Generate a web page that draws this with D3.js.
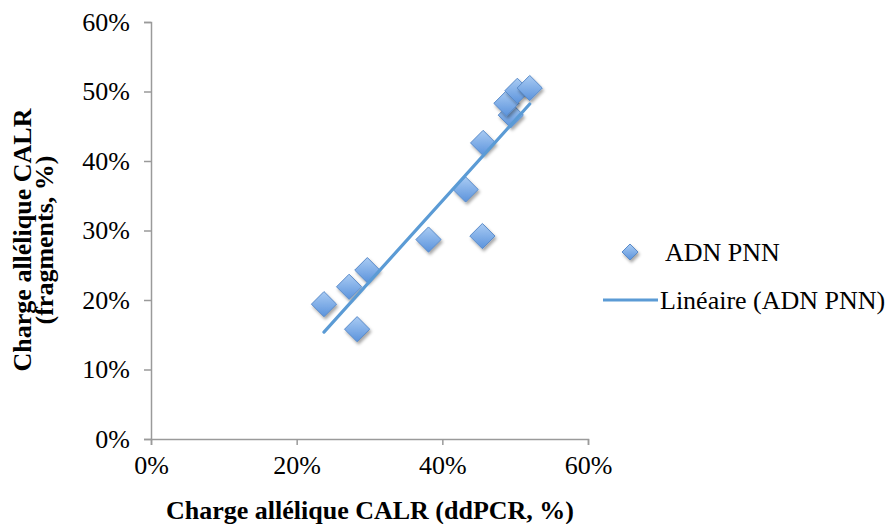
<!DOCTYPE html>
<html>
<head>
<meta charset="utf-8">
<script src="https://cdn.jsdelivr.net/npm/d3@7"></script>
<style>
  html, body { margin: 0; padding: 0; background: #fff; }
  svg { display: block; }
  text { font-family: "Liberation Serif", "Times New Roman", serif; fill: #000; }
</style>
</head>
<body>
<svg id="chart" width="892" height="524"></svg>
<script>
// Data (percent)
const xValues = [23.75, 27.2, 29.7, 28.3, 38.1, 45.5, 43.2, 45.6, 49.4, 48.8, 50.3, 52.0];
const yValues = [19.4, 21.9, 24.3, 15.8, 28.7, 29.2, 35.9, 42.6, 46.6, 48.3, 50.1, 50.5];
const xTicks = [0, 20, 40, 60];
const yTicks = [0, 10, 20, 30, 40, 50, 60];
const seriesName = "ADN PNN";
const trendName = "Linéaire (ADN PNN)";
const xTitle = "Charge allélique CALR (ddPCR, %)";
const yTitleLines = ["Charge allélique CALR", "(fragments, %)"];

const svg = d3.select("#chart");
const x = d3.scaleLinear().domain([0, 60]).range([151, 588]);
const y = d3.scaleLinear().domain([0, 60]).range([439, 22]);

const defs = svg.append("defs");
const grad = defs.append("linearGradient").attr("id", "mk").attr("x1", 0).attr("y1", 0).attr("x2", 0).attr("y2", 1);
grad.append("stop").attr("offset", "0%").attr("stop-color", "#a9cbf3");
grad.append("stop").attr("offset", "100%").attr("stop-color", "#5b93dc");
const filt = defs.append("filter").attr("id", "sh").attr("x", "-50%").attr("y", "-50%").attr("width", "200%").attr("height", "200%");
filt.append("feDropShadow").attr("dx", 1.5).attr("dy", 2.5).attr("stdDeviation", 1.6).attr("flood-color", "#000").attr("flood-opacity", 0.35);

const axisColor = "#9a9a9a";
const fs = 26;

// Y axis
const yAxis = svg.append("g").attr("transform", `translate(${x(0)},0)`)
  .call(d3.axisLeft(y).tickValues(yTicks).tickSize(7).tickPadding(14).tickFormat(d => d + "%"));
yAxis.select(".domain").attr("stroke", axisColor).attr("stroke-width", 1.5);
yAxis.selectAll(".tick line").attr("stroke", axisColor).attr("stroke-width", 1.5);
yAxis.selectAll(".tick text").attr("font-size", fs).attr("font-family", "Liberation Serif").attr("fill", "#000");

// X axis
const xAxis = svg.append("g").attr("transform", `translate(0,${y(0)})`)
  .call(d3.axisBottom(x).tickValues(xTicks).tickSize(6).tickPadding(11).tickFormat(d => d + "%"));
xAxis.select(".domain").attr("stroke", axisColor).attr("stroke-width", 1.5);
xAxis.selectAll(".tick line").attr("stroke", axisColor).attr("stroke-width", 1.5);
xAxis.selectAll(".tick text").attr("font-size", fs).attr("font-family", "Liberation Serif").attr("fill", "#000");

// Linear regression trendline
const n = xValues.length;
const mx = d3.mean(xValues), my = d3.mean(yValues);
let sxy = 0, sxx = 0;
for (let i = 0; i < n; i++) { sxy += (xValues[i] - mx) * (yValues[i] - my); sxx += (xValues[i] - mx) ** 2; }
const slope = sxy / sxx, icpt = my - slope * mx;
const xr = d3.extent(xValues);

// Points
const diamond = r => `M0,${-r}L${r},0L0,${r}L${-r},0Z`;
svg.append("g").selectAll("path").data(xValues.map((v, i) => [v, yValues[i]])).join("path")
  .attr("d", diamond(12.6))
  .attr("transform", d => `translate(${x(d[0])},${y(d[1])})`)
  .attr("fill", "url(#mk)").attr("stroke", "#5a8bc9").attr("stroke-width", 1)
  .attr("filter", "url(#sh)");

svg.append("line")
  .attr("x1", x(xr[0])).attr("y1", y(slope * xr[0] + icpt))
  .attr("x2", x(xr[1])).attr("y2", y(slope * xr[1] + icpt))
  .attr("stroke", "#5b9bd5").attr("stroke-width", 3.2).attr("stroke-linecap", "round");

// Legend
const lg = svg.append("g");
lg.append("path").attr("d", diamond(8)).attr("transform", "translate(630,252)")
  .attr("fill", "url(#mk)").attr("stroke", "#5a8bc9").attr("filter", "url(#sh)");
lg.append("text").attr("x", 665).attr("y", 261).attr("font-size", fs).text(seriesName);
lg.append("line").attr("x1", 603).attr("x2", 658).attr("y1", 300).attr("y2", 300)
  .attr("stroke", "#5b9bd5").attr("stroke-width", 3.2);
lg.append("text").attr("x", 660).attr("y", 309).attr("font-size", fs).text(trendName);

// Axis titles
svg.append("text").attr("x", 370).attr("y", 519).attr("text-anchor", "middle")
  .attr("font-size", 26).attr("font-weight", "bold").text(xTitle);
const yt = svg.append("text").attr("transform", "translate(0,240) rotate(-90)")
  .attr("text-anchor", "middle").attr("font-size", 26).attr("font-weight", "bold");
yt.append("tspan").attr("x", 0).attr("y", 31).text(yTitleLines[0]);
yt.append("tspan").attr("x", 0).attr("y", 53).text(yTitleLines[1]);
</script>
</body>
</html>
